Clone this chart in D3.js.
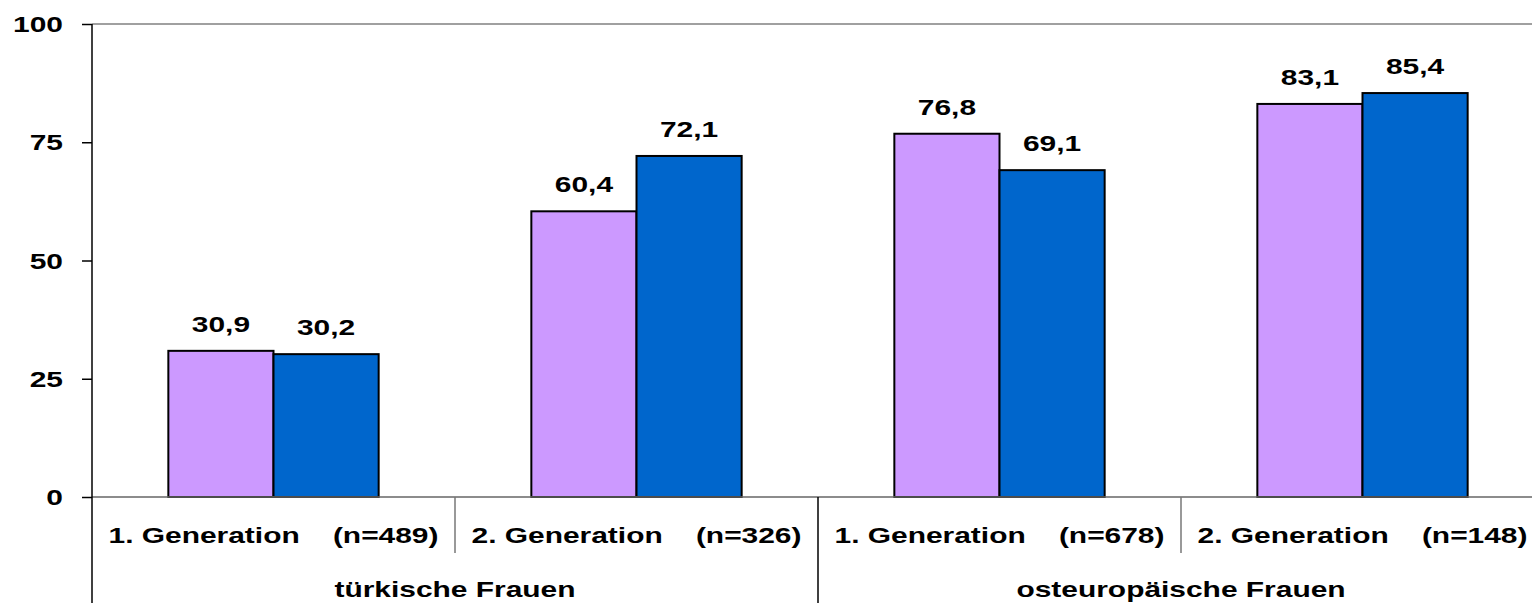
<!DOCTYPE html>
<html>
<head>
<meta charset="utf-8">
<script src="https://cdn.jsdelivr.net/npm/d3@7"></script>
<style>
  html, body { margin: 0; padding: 0; background: #fff; }
  svg { display: block; }
  text { font-family: "Liberation Sans", Arial, sans-serif; font-weight: bold; fill: #000; white-space: pre; }
</style>
</head>
<body>
<svg id="chart" width="1532" height="603"></svg>
<script>
// Data
const categories = ["1. Generation", "2. Generation", "1. Generation", "2. Generation"];
const sampleSizes = [489, 326, 678, 148];
const groups = ["türkische Frauen", "osteuropäische Frauen"];
const seriesNames = ["A", "B"];
const seriesA = [30.9, 60.4, 76.8, 83.1];
const seriesB = [30.2, 72.1, 69.1, 85.4];
const yTicks = [0, 25, 50, 75, 100];
const colors = ["#CC99FF", "#0066CC"];

const W = 1532, H = 603;
const plotLeft = 92, plotTop = 24, zeroY = 497;
const step = 363;
const stretch = 1.36;   // wide glyph rendering
const fs = 22;

const svg = d3.select("#chart");

const x0 = d3.scaleBand()
  .domain(d3.range(categories.length))
  .range([plotLeft, plotLeft + step * categories.length])
  .padding(0);

const x1 = d3.scaleBand()
  .domain(seriesNames)
  .range([0, step])
  .paddingInner(0)
  .paddingOuter(0.726);

const y = d3.scaleLinear().domain([0, 100]).range([zeroY, plotTop]);

const de = d3.formatLocale({ decimal: ",", thousands: ".", grouping: [3], currency: ["", " €"] });
const fmt = de.format(".1f");

function wideText(sel, x, yy, str, anchor) {
  sel.append("text")
    .attr("transform", `translate(${x},${yy}) scale(${stretch},1)`)
    .attr("text-anchor", anchor || "middle")
    .attr("font-size", fs)
    .text(str);
}

// top border line at 100
svg.append("line")
  .attr("x1", plotLeft).attr("x2", W)
  .attr("y1", y(100)).attr("y2", y(100))
  .attr("stroke", "#808080").attr("stroke-width", 1.5);

// bars
const rows = categories.map((c, i) => ({ i, values: [seriesA[i], seriesB[i]] }));
const g = svg.append("g");
rows.forEach(r => {
  r.values.forEach((v, k) => {
    const bx = x0(r.i) + x1(seriesNames[k]);
    g.append("rect")
      .attr("x", bx)
      .attr("y", y(v))
      .attr("width", x1.bandwidth())
      .attr("height", y(0) - y(v))
      .attr("fill", colors[k])
      .attr("stroke", "#000")
      .attr("stroke-width", 2);
    wideText(svg, bx + x1.bandwidth() / 2, y(v) - 19, fmt(v));
  });
});

// baseline
svg.append("line")
  .attr("x1", plotLeft).attr("x2", W)
  .attr("y1", y(0)).attr("y2", y(0))
  .attr("stroke", "#666").attr("stroke-width", 1.5);

// y axis
const yAxis = d3.axisLeft(y).tickValues(yTicks).tickSize(10).tickFormat("");
const ya = svg.append("g").attr("transform", `translate(${plotLeft},0)`).call(yAxis);
ya.select(".domain").remove();
ya.selectAll(".tick line").attr("stroke", "#000").attr("stroke-width", 1.5);
svg.append("line")
  .attr("x1", plotLeft).attr("x2", plotLeft)
  .attr("y1", y(100)).attr("y2", H)
  .attr("stroke", "#000").attr("stroke-width", 1.5);
yTicks.forEach(t => wideText(svg, 63, y(t) + 8, String(t), "end"));

// category separators and labels
for (let i = 1; i < categories.length; i++) {
  const sx = x0(i);
  const isGroup = i % 2 === 0;
  svg.append("line")
    .attr("x1", sx).attr("x2", sx)
    .attr("y1", y(0)).attr("y2", isGroup ? H : 553)
    .attr("stroke", isGroup ? "#000" : "#777").attr("stroke-width", 1.5);
}
categories.forEach((c, i) => {
  wideText(svg, x0(i) + step / 2, 543, `${c}    (n=${sampleSizes[i]})`);
});
groups.forEach((gname, j) => {
  const gx = x0(j * 2) + step;
  wideText(svg, gx, 597, gname);
});
</script>
</body>
</html>
